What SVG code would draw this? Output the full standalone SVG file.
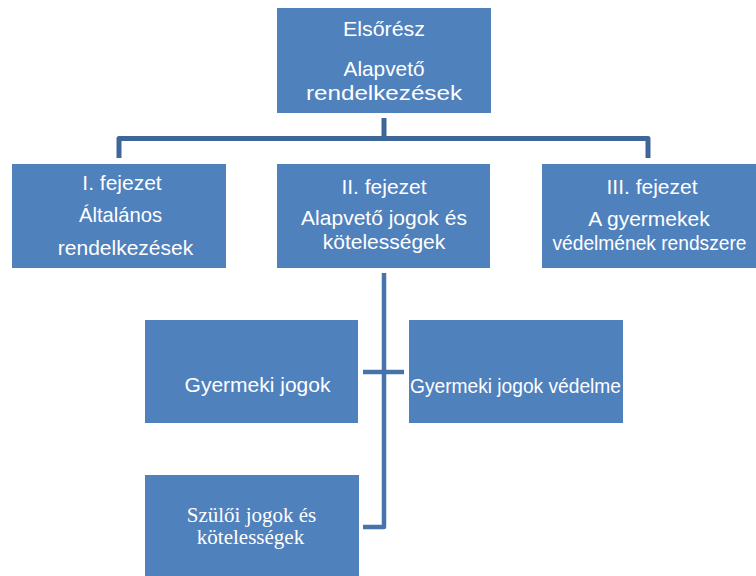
<svg xmlns="http://www.w3.org/2000/svg" width="756" height="576" viewBox="0 0 756 576">
<style>
.box{fill:#4F81BD}
.t{font-family:"Liberation Sans",Arial,sans-serif;font-size:21px;fill:#ffffff;text-anchor:middle}
.s{font-family:"Liberation Serif","Times New Roman",serif;font-size:21px;fill:#ffffff;text-anchor:middle}
.c1{fill:none;stroke:#3D6699;stroke-width:5;stroke-linejoin:round}
.c2{fill:none;stroke:#4674AA;stroke-width:4.5;stroke-linejoin:round}
</style>
<rect width="756" height="576" fill="#ffffff"/>
<g id="connectors">
<path class="c1" d="M384,118 V138.5"/>
<path class="c1" d="M119,158 V138.5 H648 V158"/>
<path class="c2" d="M384,273 V527 H363"/>
<path class="c2" d="M363,372 H404"/>
</g>
<g id="n-top">
<rect class="box" x="277" y="8" width="214" height="105"/>
<text class="t" x="384" y="36" font-size="22" textLength="82" lengthAdjust="spacingAndGlyphs">Elsőrész</text>
<text class="t" x="384" y="75.5" font-size="23" textLength="81" lengthAdjust="spacingAndGlyphs">Alapvető</text>
<text class="t" x="384" y="100" font-size="24" textLength="156" lengthAdjust="spacingAndGlyphs">rendelkezések</text>
</g>
<g id="n-1">
<rect class="box" x="12" y="164" width="214" height="104"/>
<text class="t" x="122" y="190">I. fejezet</text>
<text class="t" x="120.5" y="222" textLength="83" lengthAdjust="spacingAndGlyphs">Általános</text>
<text class="t" x="125.5" y="255">rendelkezések</text>
</g>
<g id="n-2">
<rect class="box" x="277" y="164" width="213" height="104"/>
<text class="t" x="384" y="193.5">II. fejezet</text>
<text class="t" x="384" y="225">Alapvető jogok és</text>
<text class="t" x="384" y="248.5">kötelességek</text>
</g>
<g id="n-3">
<rect class="box" x="542" y="164" width="214" height="104"/>
<text class="t" x="652" y="194">III. fejezet</text>
<text class="t" x="649" y="226" font-size="20">A gyermekek</text>
<text class="t" x="649.5" y="250" font-size="19.5" textLength="194" lengthAdjust="spacingAndGlyphs">védelmének rendszere</text>
</g>
<g id="n-gyj">
<rect class="box" x="145" y="320" width="213" height="103"/>
<text class="t" x="257.5" y="392">Gyermeki jogok</text>
</g>
<g id="n-gyjv">
<rect class="box" x="409" y="320" width="214" height="103"/>
<text class="t" x="410" y="393" style="text-anchor:start" textLength="211" lengthAdjust="spacingAndGlyphs">Gyermeki jogok védelme</text>
</g>
<g id="n-szj">
<rect class="box" x="145" y="475" width="214" height="101"/>
<text class="s" x="251.5" y="521.5">Szülői jogok és</text>
<text class="s" x="250.5" y="543.5">kötelességek</text>
</g>
</svg>
